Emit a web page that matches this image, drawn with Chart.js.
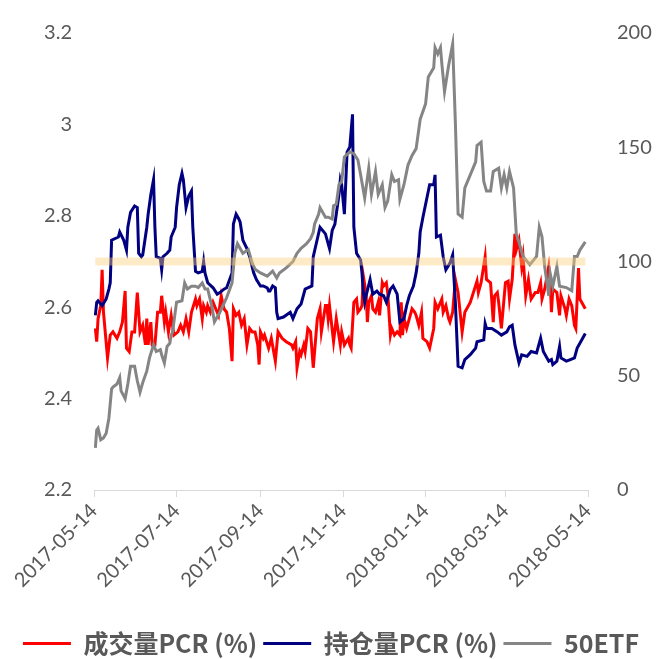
<!DOCTYPE html>
<html>
<head>
<meta charset="utf-8">
<script src="https://cdn.jsdelivr.net/npm/chart.js@4/dist/chart.umd.min.js"></script>
<style>
  html, body { margin: 0; padding: 0; background: #fff; }
  #wrap { width: 662px; height: 659px; }
</style>
</head>
<body>
<div id="wrap"><canvas id="c" width="662" height="659"></canvas></div>
<script>
// ---------- DATA ----------
const tickDates = ['2017-05-14','2017-07-14','2017-09-14','2017-11-14','2018-01-14','2018-03-14','2018-05-14'];
const leftTicks = [2.2, 2.4, 2.6, 2.8, 3.0, 3.2];
const rightTicks = [0, 50, 100, 150, 200];
const seriesNames = ['成交量PCR (%)', '持仓量PCR (%)', '50ETF'];
const bandValue = 100;

const etfDates = ['2017-05-15','2017-05-16','2017-05-17','2017-05-19','2017-05-21','2017-05-23','2017-05-25','2017-05-27','2017-05-28','2017-05-31',
'2017-06-02','2017-06-03','2017-06-06','2017-06-08','2017-06-10','2017-06-13','2017-06-15','2017-06-17','2017-06-19','2017-06-22',
'2017-06-24','2017-06-27','2017-06-29','2017-07-02','2017-07-03','2017-07-05','2017-07-07','2017-07-09','2017-07-10','2017-07-11',
'2017-07-14','2017-07-18','2017-07-20','2017-07-22','2017-07-25','2017-07-28','2017-07-30','2017-08-02','2017-08-04','2017-08-06',
'2017-08-09','2017-08-11','2017-08-15','2017-08-20','2017-08-24','2017-08-26','2017-08-28','2017-09-01','2017-09-05','2017-09-08',
'2017-09-10','2017-09-14','2017-09-19','2017-09-23','2017-09-26','2017-09-28','2017-10-03','2017-10-08','2017-10-11','2017-10-14',
'2017-10-18','2017-10-21','2017-10-23','2017-10-24','2017-10-27','2017-10-28','2017-11-01','2017-11-03','2017-11-06','2017-11-07',
'2017-11-09','2017-11-11','2017-11-13','2017-11-15','2017-11-19','2017-11-22','2017-11-25','2017-11-27','2017-11-30','2017-12-03',
'2017-12-05','2017-12-08','2017-12-10','2017-12-13','2017-12-15','2017-12-17','2017-12-20','2017-12-22','2017-12-25','2017-12-26',
'2017-12-29','2018-01-01','2018-01-04','2018-01-07','2018-01-10','2018-01-14','2018-01-16','2018-01-20','2018-01-21','2018-01-23',
'2018-01-25','2018-01-26','2018-01-28','2018-01-31','2018-02-03','2018-02-05','2018-02-07','2018-02-10','2018-02-12','2018-02-20',
'2018-02-21','2018-02-24','2018-02-26','2018-02-28','2018-03-03','2018-03-05','2018-03-09','2018-03-11','2018-03-13','2018-03-15',
'2018-03-17','2018-03-20','2018-03-22','2018-03-25','2018-03-27','2018-04-01','2018-04-06','2018-04-08','2018-04-10','2018-04-12',
'2018-04-15','2018-04-16','2018-04-18','2018-04-21','2018-04-23','2018-04-28','2018-05-02','2018-05-04','2018-05-06','2018-05-08',
'2018-05-12'];
const etfValues = [2.292,2.331,2.335,2.310,2.314,2.324,2.357,2.421,2.425,2.432,
2.446,2.417,2.400,2.432,2.471,2.471,2.439,2.414,2.435,2.460,
2.489,2.518,2.503,2.507,2.496,2.478,2.514,2.521,2.539,2.545,
2.611,2.614,2.653,2.640,2.646,2.646,2.643,2.653,2.640,2.640,
2.603,2.568,2.589,2.621,2.653,2.718,2.739,2.718,2.726,2.696,
2.683,2.675,2.668,2.679,2.664,2.675,2.686,2.700,2.718,2.729,
2.739,2.750,2.764,2.782,2.804,2.818,2.797,2.797,2.793,2.822,
2.825,2.868,2.875,2.929,2.940,2.936,2.922,2.890,2.839,2.904,
2.847,2.897,2.847,2.868,2.818,2.832,2.890,2.875,2.879,2.836,
2.868,2.911,2.932,2.947,3.011,3.045,3.104,3.124,3.168,3.154,
3.168,3.133,3.072,3.129,3.176,3.004,2.804,2.797,2.861,2.918,
2.954,2.961,2.875,2.854,2.854,2.897,2.904,2.861,2.890,2.861,
2.897,2.861,2.761,2.732,2.711,2.693,2.711,2.775,2.754,2.689,
2.625,2.675,2.646,2.689,2.646,2.643,2.636,2.711,2.711,2.725,
2.743];

const oiDates = ['2017-05-15','2017-05-16','2017-05-17','2017-05-20','2017-05-23','2017-05-25','2017-05-26','2017-05-27','2017-06-01','2017-06-02',
'2017-06-05','2017-06-07','2017-06-08','2017-06-10','2017-06-13','2017-06-15','2017-06-16','2017-06-18','2017-06-19','2017-06-22',
'2017-06-23','2017-06-25','2017-06-27','2017-06-28','2017-06-29','2017-07-02','2017-07-03','2017-07-04','2017-07-07','2017-07-09',
'2017-07-10','2017-07-13','2017-07-14','2017-07-16','2017-07-18','2017-07-19','2017-07-21','2017-07-23','2017-07-25','2017-07-26',
'2017-07-28','2017-07-30','2017-08-02','2017-08-03','2017-08-04','2017-08-06','2017-08-10','2017-08-13','2017-08-15','2017-08-18',
'2017-08-20','2017-08-24','2017-08-25','2017-08-27','2017-08-29','2017-08-30','2017-09-01','2017-09-04','2017-09-06','2017-09-09',
'2017-09-11','2017-09-14','2017-09-16','2017-09-19','2017-09-20','2017-09-21','2017-09-23','2017-09-25','2017-09-26','2017-09-27',
'2017-10-01','2017-10-06','2017-10-08','2017-10-11','2017-10-14','2017-10-17','2017-10-19','2017-10-22','2017-10-23','2017-10-28',
'2017-11-01','2017-11-04','2017-11-06','2017-11-08','2017-11-11','2017-11-12','2017-11-13','2017-11-15','2017-11-17','2017-11-19',
'2017-11-21','2017-11-22','2017-11-24','2017-11-27','2017-11-28','2017-11-29','2017-11-30','2017-12-01','2017-12-04','2017-12-06',
'2017-12-09','2017-12-11','2017-12-14','2017-12-16','2017-12-19','2017-12-21','2017-12-24','2017-12-26','2017-12-29','2017-12-31',
'2018-01-02','2018-01-05','2018-01-07','2018-01-09','2018-01-10','2018-01-12','2018-01-15','2018-01-17','2018-01-20','2018-01-21',
'2018-01-22','2018-01-25','2018-01-27','2018-01-29','2018-02-01','2018-02-03','2018-02-05','2018-02-07','2018-02-10','2018-02-12',
'2018-02-16','2018-02-20','2018-02-21','2018-02-26','2018-02-27','2018-02-28','2018-03-04','2018-03-08','2018-03-11','2018-03-15',
'2018-03-17','2018-03-19','2018-03-21','2018-03-24','2018-03-26','2018-03-30','2018-04-02','2018-04-06','2018-04-09','2018-04-11',
'2018-04-15','2018-04-17','2018-04-18','2018-04-21','2018-04-23','2018-04-24','2018-04-28','2018-05-01','2018-05-04','2018-05-06',
'2018-05-08','2018-05-12'];
const oiValues = [76.4,82.1,82.8,80.7,83.6,87.9,90.7,109.3,110.7,112.9,
109.3,105.0,115.0,121.5,124.3,123.6,103.6,102.1,102.9,115.0,
120.7,129.3,135.8,115.0,102.1,101.4,96.4,102.1,103.6,105.0,
110.7,115.0,123.6,133.6,138.6,135.8,123.6,128.6,130.8,115.0,
95.7,95.0,95.7,100.0,95.0,90.7,88.5,85.7,86.4,87.9,
88.5,95.0,116.4,120.7,118.6,117.2,109.3,105.7,102.1,95.0,
92.1,89.3,89.3,88.5,87.1,87.1,89.3,88.5,77.8,75.0,
75.7,77.8,75.0,79.3,81.4,87.9,88.5,89.3,102.1,115.0,
112.1,105.7,113.6,116.4,129.3,135.8,133.6,120.7,147.9,150.1,
164.4,115.0,103.6,100.7,95.0,86.4,82.1,85.0,92.1,85.7,
87.1,85.7,85.0,82.1,87.9,89.3,85.7,73.5,75.0,80.7,
85.0,89.3,95.0,103.6,112.9,119.3,127.9,133.6,133.6,137.9,
110.7,111.5,102.1,96.4,99.3,102.9,82.1,54.2,53.5,57.1,
59.2,62.1,64.9,65.7,72.8,70.7,70.7,69.2,67.8,69.2,
71.4,72.1,63.5,55.7,59.2,58.5,60.6,60.0,66.4,60.6,
56.4,57.1,54.9,56.4,62.8,57.8,56.4,57.1,57.8,62.1,
64.2,68.5];

const volDates = ['2017-05-15','2017-05-16','2017-05-17','2017-05-19','2017-05-20','2017-05-21','2017-05-24','2017-05-26','2017-05-28','2017-05-31',
'2017-06-02','2017-06-04','2017-06-06','2017-06-07','2017-06-09','2017-06-11','2017-06-13','2017-06-15','2017-06-17','2017-06-19',
'2017-06-21','2017-06-22','2017-06-23','2017-06-25','2017-06-26','2017-06-28','2017-06-30','2017-07-02','2017-07-03','2017-07-05',
'2017-07-06','2017-07-08','2017-07-10','2017-07-12','2017-07-15','2017-07-17','2017-07-19','2017-07-21','2017-07-23','2017-07-25',
'2017-07-28','2017-07-29','2017-07-31','2017-08-02','2017-08-03','2017-08-05','2017-08-06','2017-08-08','2017-08-10','2017-08-13',
'2017-08-14','2017-08-16','2017-08-18','2017-08-20','2017-08-22','2017-08-24','2017-08-25','2017-08-27','2017-08-29','2017-08-31',
'2017-09-02','2017-09-04','2017-09-06','2017-09-08','2017-09-10','2017-09-12','2017-09-13','2017-09-14','2017-09-16','2017-09-17',
'2017-09-20','2017-09-22','2017-09-25','2017-09-27','2017-09-30','2017-10-03','2017-10-07','2017-10-08','2017-10-10','2017-10-11',
'2017-10-13','2017-10-14','2017-10-16','2017-10-17','2017-10-19','2017-10-21','2017-10-23','2017-10-26','2017-10-28','2017-10-29',
'2017-11-01','2017-11-02','2017-11-03','2017-11-04','2017-11-07','2017-11-09','2017-11-12','2017-11-13','2017-11-15','2017-11-18',
'2017-11-19','2017-11-20','2017-11-22','2017-11-24','2017-11-25','2017-11-27','2017-11-28','2017-11-29','2017-12-01','2017-12-02',
'2017-12-03','2017-12-05','2017-12-06','2017-12-08','2017-12-10','2017-12-11','2017-12-13','2017-12-14','2017-12-16','2017-12-17',
'2017-12-19','2017-12-20','2017-12-22','2017-12-24','2017-12-26','2017-12-27','2017-12-28','2017-12-29','2017-12-31','2018-01-02',
'2018-01-04','2018-01-06','2018-01-07','2018-01-09','2018-01-11','2018-01-12','2018-01-15','2018-01-17','2018-01-20','2018-01-21',
'2018-01-23','2018-01-26','2018-01-27','2018-01-29','2018-01-31','2018-02-01','2018-02-03','2018-02-05','2018-02-07','2018-02-08',
'2018-02-10','2018-02-12','2018-02-16','2018-02-21','2018-02-22','2018-02-24','2018-02-27','2018-02-28','2018-03-03','2018-03-05',
'2018-03-06','2018-03-08','2018-03-09','2018-03-11','2018-03-14','2018-03-16','2018-03-17','2018-03-19','2018-03-21','2018-03-22',
'2018-03-24','2018-03-26','2018-03-27','2018-03-29','2018-03-31','2018-04-02','2018-04-05','2018-04-07','2018-04-09','2018-04-10',
'2018-04-12','2018-04-15','2018-04-16','2018-04-17','2018-04-18','2018-04-21','2018-04-23','2018-04-24','2018-04-27','2018-04-28',
'2018-04-30','2018-05-02','2018-05-04','2018-05-05','2018-05-07','2018-05-08','2018-05-12'];
const volValues = [70.7,64.9,75.0,80.7,96.4,77.8,57.8,67.8,69.2,66.4,
69.2,73.5,87.1,62.1,60.6,69.2,69.2,86.4,69.2,72.1,
63.5,75.0,63.5,73.5,63.5,63.5,77.8,77.8,85.0,73.5,
77.8,69.2,76.4,67.8,69.2,72.1,69.2,75.0,69.2,77.8,
83.6,80.7,83.6,75.0,80.7,77.8,80.7,77.8,82.1,77.8,
76.4,85.0,79.3,77.8,70.7,56.4,79.3,76.4,77.8,72.1,
75.0,63.5,70.7,69.2,69.2,63.5,54.9,69.2,66.4,67.8,
62.1,66.4,56.4,69.2,66.4,64.9,63.5,62.1,64.9,53.5,
60.6,59.2,63.5,60.6,70.7,69.2,53.5,75.0,79.3,69.2,
80.7,80.7,75.0,80.7,64.9,75.0,63.5,69.2,63.5,66.4,
63.5,62.1,82.1,83.6,77.8,79.3,80.7,93.6,86.4,73.5,
82.1,85.0,79.3,77.8,82.1,76.4,90.7,89.3,90.7,86.4,
67.8,70.7,67.8,69.2,67.8,82.1,67.8,75.0,70.7,75.0,
79.3,77.8,76.4,72.1,77.8,66.4,64.9,62.1,70.7,82.1,
79.3,83.6,77.8,80.7,75.0,73.5,77.8,92.1,86.4,80.7,
69.2,77.8,82.1,91.4,86.4,90.7,102.1,92.1,90.7,73.5,
85.0,86.4,82.1,70.7,90.7,91.4,83.6,92.1,112.1,105.0,
109.3,97.9,102.1,85.0,92.1,83.6,86.4,86.4,90.7,83.6,
87.9,97.9,92.1,77.8,87.9,86.4,76.4,85.0,79.3,76.4,
83.6,80.7,72.1,70.7,97.1,83.6,79.3];

// ---------- BUILD ----------
function toDay(s) { const p = s.split('-').map(Number); return Date.UTC(p[0], p[1] - 1, p[2]) / 864e5; }
function pts(dates, vals) { return dates.map((d, i) => ({ x: toDay(d), y: vals[i] })); }

const AX = '#595959';
const FONT = 'Lato, "Noto Sans CJK SC", sans-serif';

const chart = new Chart(document.getElementById('c'), {
  type: 'line',
  data: {
    datasets: [
      { label: seriesNames[0], data: pts(volDates, volValues), yAxisID: 'y1', borderColor: '#FF0000', backgroundColor: '#FF0000', borderWidth: 3, pointRadius: 0, order: 3 },
      { label: seriesNames[1], data: pts(oiDates, oiValues), yAxisID: 'y1', borderColor: '#000080', backgroundColor: '#000080', borderWidth: 3, pointRadius: 0, order: 2 },
      { label: seriesNames[2], data: pts(etfDates, etfValues), yAxisID: 'y', borderColor: '#858585', backgroundColor: '#858585', borderWidth: 3, pointRadius: 0, order: 1 },
      { label: 'band', data: [{ x: toDay(etfDates[0]), y: bandValue }, { x: toDay(etfDates[etfDates.length - 1]), y: bandValue }],
        yAxisID: 'y1', borderColor: 'rgba(250,205,120,0.42)', backgroundColor: 'rgba(250,205,120,0.42)', borderWidth: 8, pointRadius: 0, order: 0, borderCapStyle: 'butt' }
    ]
  },
  options: {
    responsive: false,
    animation: false,
    events: [],
    layout: { padding: { top: 22, left: 0, right: 0, bottom: -7 } },
    plugins: {
      tooltip: { enabled: false },
      legend: {
        position: 'bottom',
        labels: {
          boxWidth: 48,
          boxHeight: 3,
          padding: 6,
          color: AX,
          font: { family: '"Noto Sans CJK SC", sans-serif', size: 25, weight: 'bold' },
          filter: (item) => item.datasetIndex < 3,
          sort: (a, b) => a.datasetIndex - b.datasetIndex,
          generateLabels: (ch) => {
            const items = Chart.defaults.plugins.legend.labels.generateLabels(ch);
            items.forEach(it => { it.lineWidth = 0; it.fillStyle = it.strokeStyle; });
            return items;
          }
        }
      }
    },
    scales: {
      x: {
        type: 'linear',
        position: 'bottom',
        min: toDay(tickDates[0]),
        max: toDay(tickDates[tickDates.length - 1]),
        afterBuildTicks: (s) => { s.ticks = tickDates.map(d => ({ value: toDay(d) })); },
        afterFit: (s) => { s.height = 135; },
        ticks: {
          autoSkip: false,
          minRotation: 45,
          maxRotation: 45,
          padding: 2,
          color: AX,
          font: { family: FONT, size: 20 },
          callback: (v) => { const i = tickDates.findIndex(d => toDay(d) === v); return i >= 0 ? tickDates[i] : ''; }
        },
        grid: { drawOnChartArea: false, drawTicks: true, tickLength: 7, color: '#D9D9D9', lineWidth: 1 },
        border: { display: true, color: '#D9D9D9', width: 1 }
      },
      y: {
        position: 'left',
        min: leftTicks[0],
        max: leftTicks[leftTicks.length - 1],
        afterBuildTicks: (s) => { s.ticks = leftTicks.map(v => ({ value: v })); },
        afterFit: (s) => { s.width = 94; },
        ticks: { padding: 14, color: AX, font: { family: FONT, size: 20 }, callback: (v) => String(parseFloat(Number(v).toFixed(1))) },
        grid: { display: false },
        border: { display: false }
      },
      y1: {
        position: 'right',
        min: rightTicks[0],
        max: rightTicks[rightTicks.length - 1],
        afterBuildTicks: (s) => { s.ticks = rightTicks.map(v => ({ value: v })); },
        afterFit: (s) => { s.width = 74; },
        ticks: { padding: 21, color: AX, font: { family: FONT, size: 20 } },
        grid: { display: false },
        border: { display: false }
      }
    }
  }
});
</script>
</body>
</html>
